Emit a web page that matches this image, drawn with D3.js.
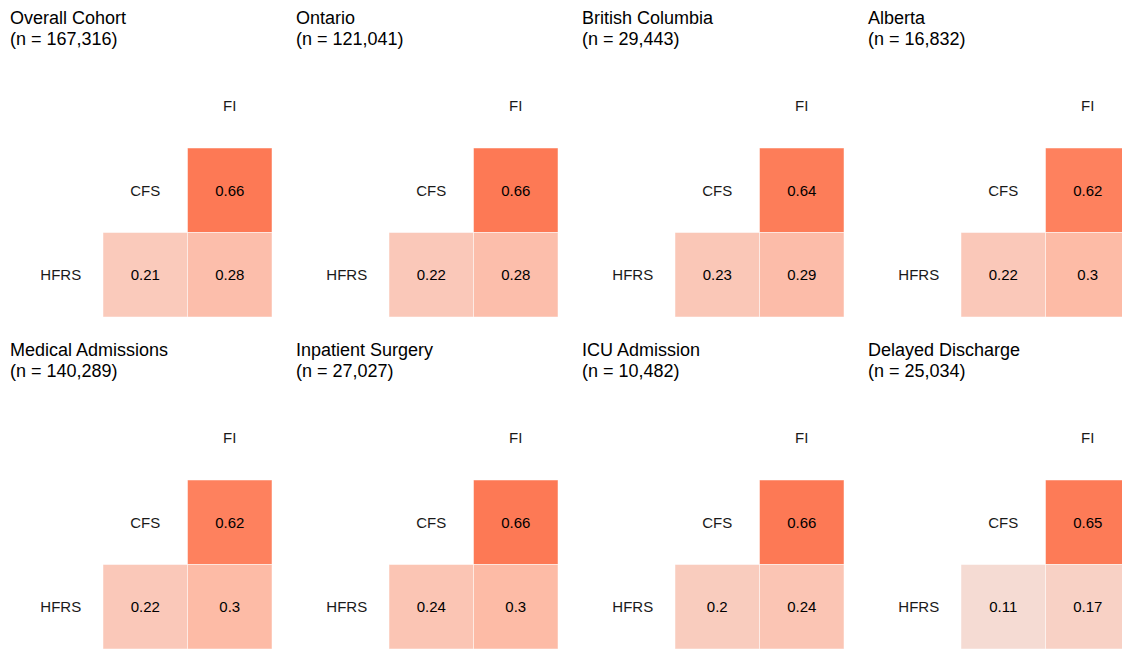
<!DOCTYPE html>
<html>
<head>
<meta charset="utf-8">
<script src="https://cdn.jsdelivr.net/npm/d3@7"></script>
<style>
  html, body { margin: 0; padding: 0; background: #fff; }
  svg { display: block; font-family: "Liberation Sans", Arial, sans-serif; }
</style>
</head>
<body>
<svg id="chart" width="1122" height="650"></svg>
<script>
// Cohort panels, in reading order
const titles = ["Overall Cohort", "Ontario", "British Columbia", "Alberta",
                "Medical Admissions", "Inpatient Surgery", "ICU Admission", "Delayed Discharge"];
const sampleSizes = ["167,316", "121,041", "29,443", "16,832",
                     "140,289", "27,027", "10,482", "25,034"];

// Frailty measures (diagonal order)
const measures = ["HFRS", "CFS", "FI"];

// Pairwise correlations for each cohort
const corrCfsFi   = [0.66, 0.66, 0.64, 0.62, 0.62, 0.66, 0.66, 0.65];
const corrHfrsCfs = [0.21, 0.22, 0.23, 0.22, 0.22, 0.24, 0.20, 0.11];
const corrHfrsFi  = [0.28, 0.28, 0.29, 0.30, 0.30, 0.30, 0.24, 0.17];

const svg = d3.select("#chart");

// Diverging fill, as in ggcorr: blue -> light grey -> red over [-1, 1]
const fill = d3.scaleLinear()
  .domain([-1, 0, 1])
  .range(["#3B9AB2", "#EEEEEE", "#F21A00"])
  .interpolate(d3.interpolateLab);

const panelW = 286, panelH = 332;
const cell = 84.5;

titles.forEach((title, i) => {
  const col = i % 4, row = Math.floor(i / 4);
  const ox = 10 + col * panelW;
  const oy = row * panelH;
  const g = svg.append("g").attr("transform", `translate(${ox},${oy})`);

  // Title (two lines)
  const t = g.append("text")
    .attr("x", 0).attr("y", 24)
    .attr("font-size", 18)
    .attr("fill", "#000");
  t.append("tspan").attr("x", 0).text(title);
  t.append("tspan").attr("x", 0).attr("dy", 21).text(`(n = ${sampleSizes[i]})`);

  const x = d3.scaleBand().domain(measures).range([8.5, 8.5 + 3 * cell]);
  const y = d3.scaleBand().domain(["FI", "CFS", "HFRS"]).range([63.5, 63.5 + 3 * cell]);

  const cells = [
    { r: "CFS",  c: "FI",  v: corrCfsFi[i] },
    { r: "HFRS", c: "CFS", v: corrHfrsCfs[i] },
    { r: "HFRS", c: "FI",  v: corrHfrsFi[i] }
  ];

  g.selectAll("rect.cell").data(cells).join("rect")
    .attr("class", "cell")
    .attr("x", d => x(d.c))
    .attr("y", d => y(d.r))
    .attr("width", x.bandwidth())
    .attr("height", y.bandwidth())
    .attr("fill", d => fill(d.v))
    .attr("stroke", "#ffffff")
    .attr("stroke-opacity", 0.6)
    .attr("stroke-width", 0.8);

  g.selectAll("text.val").data(cells).join("text")
    .attr("class", "val")
    .attr("x", d => x(d.c) + x.bandwidth() / 2)
    .attr("y", d => y(d.r) + y.bandwidth() / 2)
    .attr("dy", "0.36em")
    .attr("text-anchor", "middle")
    .attr("font-size", 15)
    .attr("fill", "#000")
    .text(d => String(+d.v.toFixed(2)));

  // Variable names on the diagonal
  g.selectAll("text.lab").data(measures).join("text")
    .attr("class", "lab")
    .attr("x", d => x(d) + x.bandwidth() / 2)
    .attr("y", d => y(d) + y.bandwidth() / 2)
    .attr("dy", "0.36em")
    .attr("text-anchor", "middle")
    .attr("font-size", 15)
    .attr("fill", "#1a1a1a")
    .text(d => d);
});
</script>
</body>
</html>
